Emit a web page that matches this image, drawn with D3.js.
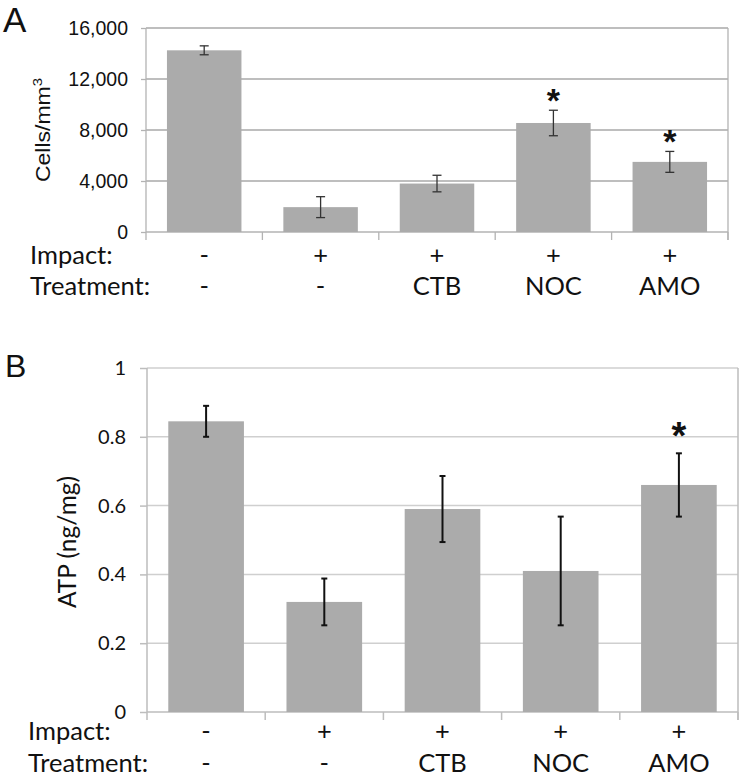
<!DOCTYPE html>
<html>
<head>
<meta charset="utf-8">
<script src="https://cdn.jsdelivr.net/npm/d3@7"></script>
<style>
  html, body { margin: 0; padding: 0; background: #fff; }
  svg { display: block; }
</style>
</head>
<body>
<svg id="chart" width="750" height="777"></svg>
<script>
// ---------- data ----------
const impact = ["-", "+", "+", "+", "+"];
const treatment = ["-", "-", "CTB", "NOC", "AMO"];
const groups = ["g1", "g2", "g3", "g4", "g5"];

const cellsMean = [14250, 1950, 3800, 8550, 5500];
const cellsErr  = [350, 820, 650, 1000, 820];
const cellsSig  = [false, false, false, true, true];
const cellsTicks = [0, 4000, 8000, 12000, 16000];

const atpMean = [0.845, 0.32, 0.59, 0.41, 0.66];
const atpErr  = [0.045, 0.068, 0.096, 0.158, 0.092];
const atpSig  = [false, false, false, false, true];
const atpTicks = [0, 0.2, 0.4, 0.6, 0.8, 1];

const svg = d3.select("#chart");
const ARIAL = "'Liberation Sans', Arial, sans-serif";
const CALI = "Lato, 'Open Sans', sans-serif";

function panel(o) {
  const g = svg.append("g");
  const x = d3.scaleBand().domain(groups).range([o.left, o.right])
    .paddingInner(0.36).paddingOuter(0.18);
  const y = d3.scaleLinear().domain([0, o.max]).range([o.bottom, o.top]);
  const step = x.step();

  // gridlines
  g.append("g").selectAll("line").data(o.ticks.filter(t => t > 0)).join("line")
    .attr("x1", o.left).attr("x2", o.right)
    .attr("y1", d => y(d)).attr("y2", d => y(d))
    .attr("stroke", o.gridColor).attr("stroke-width", o.gridWidth);

  // right border
  g.append("line").attr("x1", o.right).attr("x2", o.right)
    .attr("y1", y(o.max)).attr("y2", o.bottom + 8)
    .attr("stroke", o.borderColor).attr("stroke-width", o.gridWidth);

  // y axis
  const ya = d3.axisLeft(y).tickValues(o.ticks).tickFormat(o.fmt)
    .tickSize(o.ytick).tickPadding(o.tickPad);
  const yg = g.append("g").attr("transform", `translate(${o.left},0)`).call(ya);
  yg.select(".domain").attr("stroke", o.borderColor).attr("stroke-width", o.gridWidth)
    .attr("d", `M0,${y(o.max)}V${o.bottom + 8}`);
  yg.selectAll(".tick line").attr("stroke", o.borderColor).attr("stroke-width", o.gridWidth);
  yg.selectAll(".tick text").attr("font-family", o.tickFont).attr("font-size", o.tickSize)
    .attr("fill", "#111");

  // bottom axis line + category separator ticks
  g.append("line").attr("x1", o.left).attr("x2", o.right)
    .attr("y1", o.bottom).attr("y2", o.bottom)
    .attr("stroke", o.borderColor).attr("stroke-width", o.gridWidth);
  const bounds = groups.map(d => x(d) - step * 0.18).concat([o.right]);
  g.append("g").selectAll("line").data(bounds.slice(1)).join("line")
    .attr("x1", d => d).attr("x2", d => d)
    .attr("y1", o.bottom).attr("y2", o.bottom + 8)
    .attr("stroke", o.borderColor).attr("stroke-width", o.gridWidth);

  // bars
  g.append("g").selectAll("rect").data(o.mean).join("rect")
    .attr("x", (d, i) => x(groups[i])).attr("width", x.bandwidth())
    .attr("y", d => y(d)).attr("height", d => o.bottom - y(d))
    .attr("fill", "#ababab");

  // error bars
  const eb = g.append("g").attr("stroke", o.errColor).attr("stroke-width", o.errWidth);
  o.mean.forEach((m, i) => {
    const cx = x(groups[i]) + x.bandwidth() / 2;
    const hi = y(m + o.err[i]), lo = y(m - o.err[i]);
    eb.append("line").attr("x1", cx).attr("x2", cx).attr("y1", hi).attr("y2", lo);
    eb.append("line").attr("x1", cx - o.cap).attr("x2", cx + o.cap).attr("y1", hi).attr("y2", hi);
    eb.append("line").attr("x1", cx - o.cap).attr("x2", cx + o.cap).attr("y1", lo).attr("y2", lo);
    if (o.sig[i]) {
      g.append("text").attr("x", cx).attr("y", hi - o.starGap)
        .attr("text-anchor", "middle").attr("font-family", ARIAL)
        .attr("font-weight", "bold").attr("font-size", o.starSize).attr("fill", "#111")
        .text("*");
    }
  });

  // row labels
  const rows = [["Impact:", impact, o.row1], ["Treatment:", treatment, o.row2]];
  rows.forEach(([lab, vals, yy]) => {
    g.append("text").attr("x", o.rowLabelX).attr("y", yy)
      .attr("font-family", CALI).attr("font-size", o.rowSize).attr("fill", "#111").text(lab);
    g.append("g").selectAll("text").data(vals).join("text")
      .attr("x", (d, i) => x(groups[i]) + x.bandwidth() / 2).attr("y", yy)
      .attr("text-anchor", "middle").attr("font-family", CALI)
      .attr("font-size", o.rowSize).attr("fill", "#111").text(d => d);
  });

  // y title
  const t = g.append("text")
    .attr("transform", `translate(${o.titleX},${o.titleY}) rotate(-90) scale(${o.titleStretch},1)`)
    .attr("text-anchor", "middle").attr("font-family", o.titleFont)
    .attr("font-size", o.titleSize).attr("fill", "#111");
  o.title(t);

  // panel letter
  g.append("text").attr("x", o.letterX).attr("y", o.letterY)
    .attr("font-family", ARIAL).attr("font-size", o.letterSize).attr("fill", "#111").text(o.letter);
}

panel({
  letter: "A", letterX: 3, letterY: 32, letterSize: 35,
  left: 146, right: 728, top: 28, bottom: 232, max: 16000,
  ticks: cellsTicks, fmt: d3.format(","),
  mean: cellsMean, err: cellsErr, sig: cellsSig,
  gridColor: "#a9a9a9", borderColor: "#b3b3b3", gridWidth: 1.3,
  ytick: 5, tickPad: 13, tickFont: ARIAL, tickSize: 19.5,
  errColor: "#333", errWidth: 1.3, cap: 4.5,
  starSize: 34, starGap: -2,
  row1: 264, row2: 295, rowLabelX: 30, rowSize: 25.5,
  titleX: 50, titleY: 130, titleFont: ARIAL, titleSize: 20, titleStretch: 1.15,
  title: t => { t.append("tspan").text("Cells/mm"); t.append("tspan").attr("dy", -8).attr("font-size", 13).text("3"); }
});

panel({
  letter: "B", letterX: 5, letterY: 377, letterSize: 32,
  left: 147, right: 738, top: 368, bottom: 712, max: 1,
  ticks: atpTicks, fmt: d3.format("~g"),
  mean: atpMean, err: atpErr, sig: atpSig,
  gridColor: "#cfcfcf", borderColor: "#bdbdbd", gridWidth: 1.5,
  ytick: 7, tickPad: 14, tickFont: CALI, tickSize: 20,
  errColor: "#111", errWidth: 2, cap: 3,
  starSize: 38, starGap: 4,
  row1: 740, row2: 772, rowLabelX: 28, rowSize: 25.5,
  titleX: 76, titleY: 542, titleFont: CALI, titleSize: 24.5, titleStretch: 1,
  title: t => t.text("ATP (ng/mg)")
});
</script>
</body>
</html>
